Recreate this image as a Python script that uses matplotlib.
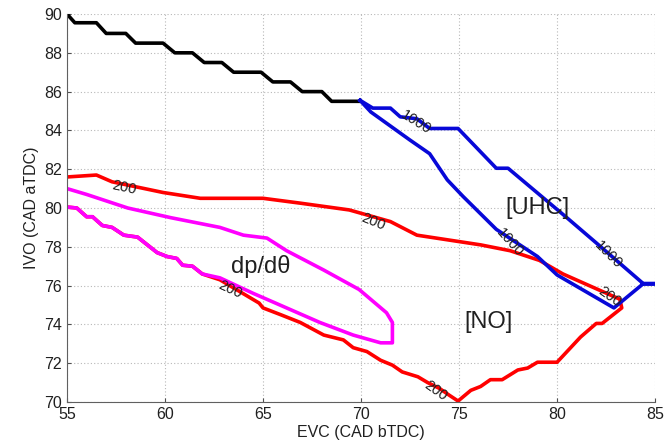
import matplotlib
matplotlib.use('Agg')
import matplotlib.pyplot as plt

plt.rcParams['font.family'] = ['Liberation Sans', 'DejaVu Sans']

# black boundary (staircase)
blk_x = [55.0, 55.4, 56.5, 57.0, 58.0, 58.5, 59.9, 60.5, 61.4, 62.0, 62.9, 63.5,
         64.9, 65.5, 66.4, 67.0, 68.0, 68.5, 69.95]
blk_y = [90.0, 89.55, 89.55, 89.0, 89.0, 88.5, 88.5, 88.0, 88.0, 87.5, 87.5, 87.0,
         87.0, 86.5, 86.5, 86.0, 86.0, 85.5, 85.5]

# UHC = 1000 contour
uhc_x = [69.95, 70.6, 71.5, 72.0, 72.85, 73.5, 74.95, 76.9, 77.5, 80.5, 82.0, 84.4,
         85.0, 84.4, 82.9, 80.0, 79.0, 76.9, 75.2, 74.4, 73.5, 72.5, 70.5, 69.95]
uhc_y = [85.55, 85.15, 85.15, 84.7, 84.6, 84.1, 84.1, 82.05, 82.05, 79.5, 78.2, 76.1,
         76.1, 76.1, 74.85, 76.55, 77.5, 78.9, 80.6, 81.45, 82.8, 83.5, 84.95, 85.55]

# NO = 200 contour
no_x = [55.0, 56.5, 57.3, 59.9, 61.8, 65.0, 66.9, 69.4, 71.5, 72.85, 76.1, 77.6,
        79.1, 80.3, 83.2, 83.3,
        82.3, 82.0, 81.2, 80.0, 79.0, 78.5, 78.0, 77.2, 76.6, 76.1, 75.6, 74.95,
        74.5, 74.0, 73.4, 72.9, 72.1, 71.6, 71.0, 70.3, 69.6, 69.1, 68.1, 66.9,
        65.9, 65.0, 64.8, 63.8, 62.8, 61.9, 61.4, 60.9, 60.6, 60.1, 59.6, 59.1,
        58.6, 57.9, 57.3, 56.8, 56.3, 56.0, 55.5, 55.0]
no_y = [81.6, 81.7, 81.35, 80.8, 80.5, 80.5, 80.25, 79.9, 79.3, 78.6, 78.1, 77.8,
        77.3, 76.6, 75.3, 74.85,
        74.05, 74.05, 73.35, 72.05, 72.05, 71.75, 71.65, 71.15, 71.15, 70.8, 70.6, 70.05,
        70.35, 70.7, 71.0, 71.3, 71.55, 71.9, 72.15, 72.6, 72.8, 73.2, 73.45, 74.1,
        74.5, 74.85, 75.1, 75.7, 76.3, 76.6, 77.0, 77.05, 77.4, 77.5, 77.7, 78.1,
        78.5, 78.6, 79.0, 79.1, 79.55, 79.55, 80.0, 80.05]

# dp/dtheta region
dp_x = [55.0, 56.0, 58.1, 60.3, 62.8, 64.0, 65.2, 66.2, 68.1, 69.9, 71.3, 71.6,
        71.6, 71.0, 69.6, 67.9, 66.2, 64.5, 62.8, 61.9, 61.4, 60.9, 60.6, 60.1,
        59.6, 59.1, 58.6, 57.9, 57.3, 56.8, 56.3, 56.0, 55.5, 55.0]
dp_y = [81.0, 80.7, 80.0, 79.5, 79.0, 78.6, 78.45, 77.8, 76.8, 75.8, 74.6, 74.1,
        73.05, 73.05, 73.45, 74.1, 74.85, 75.6, 76.4, 76.6, 77.0, 77.05, 77.4, 77.5,
        77.7, 78.1, 78.5, 78.6, 79.0, 79.1, 79.55, 79.55, 80.0, 80.05]

# contour labels: (text, x, y, rotation)
clabels = [('200', 57.9, 81.05, -12), ('200', 70.6, 79.3, -22),
           ('200', 63.3, 75.8, -25), ('200', 73.8, 70.6, -35),
           ('200', 82.7, 75.4, -35), ('1000', 72.8, 84.4, -32),
           ('1000', 77.6, 78.2, -48), ('1000', 82.6, 77.6, -45)]

fig = plt.figure(figsize=(6.66, 4.48), dpi=100)
ax = fig.add_axes([0.1006, 0.1027, 0.883, 0.866])

lw = 2.6
ax.plot(blk_x, blk_y, color='black', lw=lw)
ax.plot(no_x, no_y, color='#ff0000', lw=lw)
ax.plot(dp_x, dp_y, color='#ff00ff', lw=lw)
ax.plot(uhc_x, uhc_y, color='#0808d8', lw=lw)

for t, x, y, r in clabels:
    ax.text(x, y, t, rotation=r, fontsize=10.5, ha='center', va='center',
            color='#202020')

ax.text(79.0, 80.0, '[UHC]', fontsize=17, ha='center', va='center', color='#202020')
ax.text(76.5, 74.1, '[NO]', fontsize=17, ha='center', va='center', color='#202020')
ax.text(64.9, 77.0, 'dp/dθ', fontsize=17, ha='center', va='center',
        color='#202020')

ax.set_xlim(55, 85)
ax.set_ylim(70, 90)
ax.set_xticks(range(55, 86, 5))
ax.set_yticks(range(70, 91, 2))
ax.grid(True, linestyle=(0, (1, 2)), color='#b8b8b8', lw=0.8)
ax.tick_params(direction='in', length=3, labelsize=11.5, colors='#505050',
               labelcolor='#202020')
for s in ['top', 'right']:
    ax.spines[s].set_visible(False)
for s in ['left', 'bottom']:
    ax.spines[s].set_color('#606060')
ax.set_xlabel('EVC (CAD bTDC)', fontsize=11.5, color='#202020', labelpad=2)
ax.set_ylabel('IVO (CAD aTDC)', fontsize=11.5, color='#202020', labelpad=4)

fig.savefig('out.png', dpi=100)
